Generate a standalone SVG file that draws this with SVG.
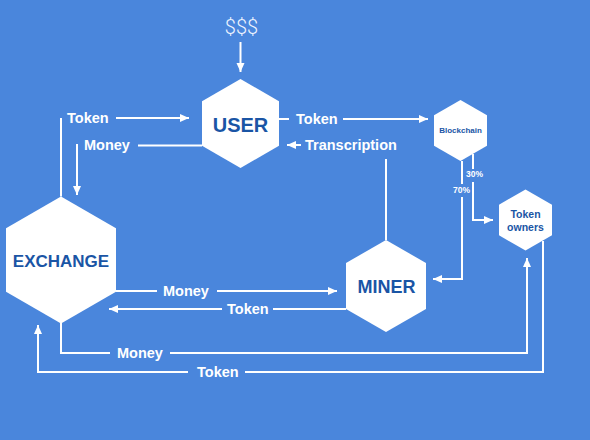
<svg xmlns="http://www.w3.org/2000/svg" width="590" height="440" viewBox="0 0 590 440">
<defs>
<marker id="ah" markerUnits="userSpaceOnUse" markerWidth="10" markerHeight="9" refX="9" refY="4" orient="auto">
<path d="M0,0 L9,4 L0,8 z" fill="#fff"/>
</marker>
<style>
.hex{fill:#fff;}
.ht{fill:#1a55a5;font-family:"Liberation Sans",Arial,sans-serif;font-weight:bold;text-anchor:middle;}
.lbl{fill:#fff;font-family:"Liberation Sans",Arial,sans-serif;font-weight:bold;font-size:14.5px;}
.pct{fill:#fff;font-family:"Liberation Sans",Arial,sans-serif;font-weight:bold;font-size:8.5px;text-anchor:middle;}
.c{fill:none;stroke:#fff;stroke-width:2;}
.a{marker-end:url(#ah);}
</style>
</defs>
<rect width="590" height="440" fill="#4a86dc"/>
<g id="connectors">
<path class="c a" d="M240.5 42 V72"/>
<path class="c" d="M61 196.5 V118"/>
<path class="c a" d="M116 118 H189"/>
<path class="c" d="M202 145.5 H138"/>
<path class="c a" d="M77 144 V195"/>
<path class="c" d="M279 119 H289"/>
<path class="c a" d="M343 119 H428"/>
<path class="c" d="M386 240 V159"/>
<path class="c a" d="M301 145 H287"/>
<path class="c" d="M116 291 H157"/>
<path class="c a" d="M217 291 H337"/>
<path class="c" d="M346 309 H273"/>
<path class="c a" d="M222 309 H109"/>
<path class="c" d="M473 154 V169"/>
<path class="c a" d="M473 182 V220 H493"/>
<path class="c" d="M462 161 V184"/>
<path class="c a" d="M462 197 V279 H433"/>
<path class="c" d="M61 323 V353 H110"/>
<path class="c a" d="M170 353 H527 V258"/>
<path class="c" d="M543 241 V372 H245"/>
<path class="c a" d="M188 372 H38 V325"/>
<text class="lbl" x="67" y="123">Token</text>
<text class="lbl" x="84" y="150">Money</text>
<text class="lbl" x="296" y="124">Token</text>
<text class="lbl" x="305" y="150">Transcription</text>
<text class="lbl" x="163" y="296">Money</text>
<text class="lbl" x="227" y="314">Token</text>
<text class="lbl" x="117" y="358">Money</text>
<text class="lbl" x="197" y="377">Token</text>
<text class="pct" x="474.5" y="177">30%</text>
<text class="pct" x="461.5" y="193">70%</text>
</g>
<g id="money">
<text x="241.5" y="34" fill="#eef4ff" font-family="Roboto, 'DejaVu Sans', sans-serif" font-weight="300" font-size="20" text-anchor="middle">$$$</text>
</g>
<g id="user">
<polygon class="hex" points="240.5,79 279,101.25 279,145.75 240.5,168 202,145.75 202,101.25"/>
<text class="ht" x="240.5" y="132" font-size="20">USER</text>
</g>
<g id="exchange">
<polygon class="hex" points="61,196.5 116,228.25 116,291.75 61,323.5 6,291.75 6,228.25"/>
<text class="ht" x="61" y="267" font-size="17">EXCHANGE</text>
</g>
<g id="miner">
<polygon class="hex" points="386,240 426,263 426,309 386,332 346,309 346,263"/>
<text class="ht" x="386.5" y="293" font-size="18">MINER</text>
</g>
<g id="blockchain">
<polygon class="hex" points="460.5,100 487,115.2 487,145.8 460.5,161 434,145.8 434,115.2"/>
<text class="ht" x="460.5" y="133" font-size="8">Blockchain</text>
</g>
<g id="token-owners">
<polygon class="hex" points="525.5,189.4 552,204.7 552,235.3 525.5,250.6 499,235.3 499,204.7"/>
<text class="ht" x="525.5" y="218" font-size="10.5">Token</text>
<text class="ht" x="525.5" y="231" font-size="10.5">owners</text>
</g>
</svg>
